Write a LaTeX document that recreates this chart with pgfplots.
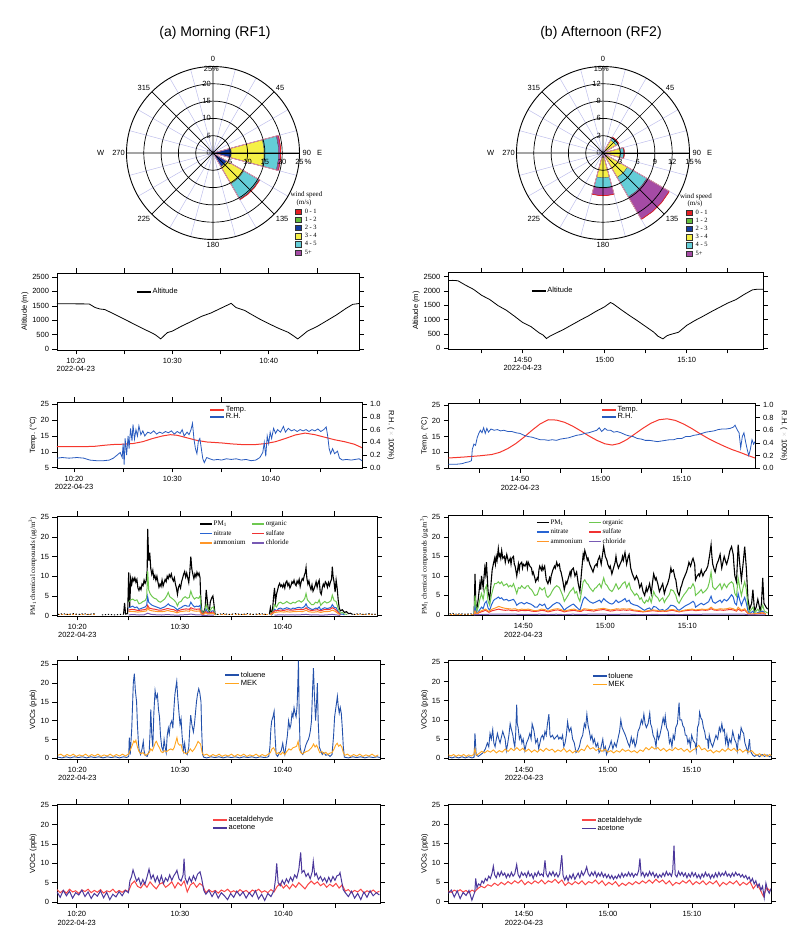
\documentclass[border=0pt]{standalone}
\usepackage{pgfplots}
\pgfplotsset{compat=1.18}
\usepgfplotslibrary{polar}
\usepackage{fontspec}
\setmainfont{Liberation Sans}
\newfontfamily\seriffont{Liberation Serif}
\definecolor{tempred}{RGB}{245,55,45}
\definecolor{rhblue}{RGB}{40,90,190}
\definecolor{pmgreen}{RGB}{110,200,80}
\definecolor{pmblue}{RGB}{40,100,210}
\definecolor{pmred}{RGB}{240,50,50}
\definecolor{pmorange}{RGB}{255,150,40}
\definecolor{pmpurple}{RGB}{120,90,180}
\definecolor{tolblue}{RGB}{35,80,170}
\definecolor{mekorange}{RGB}{255,165,30}
\definecolor{acered}{RGB}{250,70,70}
\definecolor{acepurple}{RGB}{75,55,155}
\definecolor{wred}{RGB}{230,30,35}
\definecolor{wgreen}{RGB}{100,190,60}
\definecolor{wblue}{RGB}{20,60,160}
\definecolor{wyellow}{RGB}{245,240,70}
\definecolor{wcyan}{RGB}{100,205,215}
\definecolor{wpurple}{RGB}{165,75,165}
\definecolor{wgrid}{RGB}{190,190,235}
\pgfplotsset{
  tsbase/.style={
    scale only axis, anchor=south west,
    tick align=outside, major tick length=4.5pt,
    axis line style={black, line width=0.7pt},
    every tick/.style={black, line width=0.6pt},
    tick label style={font=\fontsize{7.5}{8.5}\selectfont},
    ylabel style={font=\fontsize{7.5}{8.5}\selectfont},
    ylabel shift=-3pt,
    /pgf/number format/assume math mode=true,
    /pgf/number format/1000 sep={},
    xticklabel style={align=center},
    legend style={draw=none, fill=none, inner sep=0pt, font=\fontsize{7.5}{8.5}\selectfont,
      nodes={inner sep=0.8pt, text height=5pt, text depth=1.5pt}, row sep=0pt, legend cell align=left},
    legend image code/.code={\path[##1, draw, fill=none, line width=1.6pt] (0pt,0pt) -- (14pt,0pt);},
    unbounded coords=jump,
  },
  tsL/.style={xtick={20,25,30,35,40,45}, xticklabels={{10:20\\2022-04-23},,10:30,,10:40,}},
  tsR/.style={xtick={45,50,55,60,65,70,75}, xticklabels={,{14:50\\2022-04-23},,15:00,,15:10,}},
  rose/.style={
    anchor=origin, scale only axis, width=173pt, height=173pt,
    ymin=0, xtick={0,45,...,315},
    minor xtick={15,30,60,75,105,120,150,165,195,210,240,255,285,300,330,345},
    xmajorgrids=true, ymajorgrids=true, xminorgrids=true,
    major grid style={black, line width=0.7pt},
    minor grid style={wgrid, line width=0.5pt},
    xticklabels={}, yticklabels={},
    major tick length=0pt, minor tick length=0pt,
    axis line style={black, line width=0.9pt},
    axis on top, clip=false,
    x filter/.expression={90-x},
    legend style={draw=none, fill=none, inner sep=0pt, font=\seriffont\fontsize{6.5}{7}\selectfont,
      nodes={inner sep=0.6pt, text height=4.8pt, text depth=1.2pt}, row sep=1pt, legend cell align=left,
      /tikz/every odd column/.append style={column sep=3pt}},
    legend image code/.code={\draw[##1] (0pt,-2.7pt) rectangle (5.6pt,2.7pt);},
  },
  seg/.style={fill=#1, draw=black!70, line width=0.3pt, forget plot},
  outl/.style={draw=wred, line width=0.7pt, forget plot},
}
\begin{document}
\begin{tikzpicture}
\path[use as bounding box] (0pt,0pt) rectangle (800pt,935pt);
\node at (215pt,902pt) {\fontsize{14}{16}\selectfont (a) Morning (RF1)};
\node at (601pt,902pt) {\fontsize{14}{16}\selectfont (b) Afternoon (RF2)};

% ================= LEFT WIND ROSE =================
\begin{polaraxis}[rose, at={(213pt,782pt)}, ymax=25, ytick={5,10,15,20},
  legend style={at={(0.9746,0.1844)}, anchor=north west}]
\addplot[seg=wred] coordinates {(75,0)(75,0.3)(85,0.3)(95,0.3)(105,0.3)(105,0)(75,0)};
\addplot[seg=wgreen] coordinates {(75,0.3)(75,0.5)(85,0.5)(95,0.5)(105,0.5)(105,0.3)(95,0.3)(85,0.3)(75,0.3)};
\addplot[seg=wblue] coordinates {(75,0.5)(75,5.3)(85,5.3)(95,5.3)(105,5.3)(105,0.5)(95,0.5)(85,0.5)(75,0.5)};
\addplot[seg=wyellow] coordinates {(75,5.3)(75,14.8)(85,14.8)(95,14.8)(105,14.8)(105,5.3)(95,5.3)(85,5.3)(75,5.3)};
\addplot[seg=wcyan] coordinates {(75,14.8)(75,19)(85,19)(95,19)(105,19)(105,14.8)(95,14.8)(85,14.8)(75,14.8)};
\addplot[seg=wpurple] coordinates {(75,19)(75,19.6)(85,19.6)(95,19.6)(105,19.6)(105,19)(95,19)(85,19)(75,19)};
\addplot[outl] coordinates {(75,0)(75,19.6)(85,19.6)(95,19.6)(105,19.6)(105,0)(75,0)};
\addplot[seg=wred] coordinates {(120,0)(120,0.3)(130,0.3)(140,0.3)(150,0.3)(150,0)(120,0)};
\addplot[seg=wgreen] coordinates {(120,0.3)(120,0.5)(130,0.5)(140,0.5)(150,0.5)(150,0.3)(140,0.3)(130,0.3)(120,0.3)};
\addplot[seg=wblue] coordinates {(120,0.5)(120,4.6)(130,4.6)(140,4.6)(150,4.6)(150,0.5)(140,0.5)(130,0.5)(120,0.5)};
\addplot[seg=wyellow] coordinates {(120,4.6)(120,10.3)(130,10.3)(140,10.3)(150,10.3)(150,4.6)(140,4.6)(130,4.6)(120,4.6)};
\addplot[seg=wcyan] coordinates {(120,10.3)(120,15.4)(130,15.4)(140,15.4)(150,15.4)(150,10.3)(140,10.3)(130,10.3)(120,10.3)};
\addplot[seg=wpurple] coordinates {(120,15.4)(120,15.6)(130,15.6)(140,15.6)(150,15.6)(150,15.4)(140,15.4)(130,15.4)(120,15.4)};
\addplot[outl] coordinates {(120,0)(120,15.6)(130,15.6)(140,15.6)(150,15.6)(150,0)(120,0)};
\addlegendimage{fill=wred, draw=black!80, line width=0.3pt}\addlegendentry{0 - 1}
\addlegendimage{fill=wgreen, draw=black!80, line width=0.3pt}\addlegendentry{1 - 2}
\addlegendimage{fill=wblue, draw=black!80, line width=0.3pt}\addlegendentry{2 - 3}
\addlegendimage{fill=wyellow, draw=black!80, line width=0.3pt}\addlegendentry{3 - 4}
\addlegendimage{fill=wcyan, draw=black!80, line width=0.3pt}\addlegendentry{4 - 5}
\addlegendimage{fill=wpurple, draw=black!80, line width=0.3pt}\addlegendentry{5+}
\begin{scope}[font=\fontsize{7.5}{8}\selectfont]
\node[anchor=south, inner sep=4.5pt] at (axis cs:90,25) {0};
\node[anchor=south west, inner sep=1.5pt] at (axis cs:45,25) {45};
\node[anchor=west, inner sep=3pt] at (axis cs:0,25) {90\hspace{6pt}E};
\node[anchor=north west, inner sep=1.5pt] at (axis cs:-45,25) {135};
\node[anchor=north, inner sep=3pt] at (axis cs:-90,25) {180};
\node[anchor=north east, inner sep=1.5pt] at (axis cs:-135,25) {225};
\node[anchor=east, inner sep=1.5pt] at (axis cs:180,25) {W\hspace{8pt}270};
\node[anchor=south east, inner sep=1.5pt] at (axis cs:135,25) {315};
\end{scope}
\begin{scope}[font=\fontsize{7.5}{8}\selectfont, inner sep=0pt]
\node[anchor=east, xshift=-2pt] at (axis cs:90,0) {0};
\node[anchor=east, xshift=-2pt] at (axis cs:90,5) {5};
\node[anchor=east, xshift=-2pt] at (axis cs:90,10) {10};
\node[anchor=east, xshift=-2pt] at (axis cs:90,15) {15};
\node[anchor=east, xshift=-2pt] at (axis cs:90,20) {20};
\node[anchor=east, xshift=-0.5pt, yshift=-2.5pt] at (axis cs:90,25) {25};
\node[anchor=west, xshift=-1pt, yshift=-2.5pt] at (axis cs:90,25) {\%};
\node[anchor=north, yshift=-6pt] at (axis cs:0,5) {5};
\node[anchor=north, yshift=-6pt] at (axis cs:0,10) {10};
\node[anchor=north, yshift=-6pt] at (axis cs:0,15) {15};
\node[anchor=north, yshift=-6pt] at (axis cs:0,20) {20};
\node[anchor=north, yshift=-6pt] at (axis cs:0,25) {25};
\node[anchor=north west, yshift=-6pt, xshift=5pt] at (axis cs:0,25) {\%};
\end{scope}
\end{polaraxis}
\node[font=\seriffont\fontsize{7}{8}\selectfont] at (306.5pt,740pt) {wind speed};
\node[font=\seriffont\fontsize{7}{8}\selectfont] at (304pt,732pt) {(m/s)};

% ================= RIGHT WIND ROSE =================
\begin{polaraxis}[rose, at={(603pt,782pt)}, ymax=15, ytick={3,6,9,12},
  legend style={at={(0.980,0.1786)}, anchor=north west}]
\addplot[seg=wred] coordinates {(30,0)(30,0.2)(40,0.2)(50,0.2)(60,0.2)(60,0)(30,0)};
\addplot[seg=wgreen] coordinates {(30,0.2)(30,0.35)(40,0.35)(50,0.35)(60,0.35)(60,0.2)(50,0.2)(40,0.2)(30,0.2)};
\addplot[seg=wblue] coordinates {(30,0.35)(30,0.5)(40,0.5)(50,0.5)(60,0.5)(60,0.35)(50,0.35)(40,0.35)(30,0.35)};
\addplot[seg=wyellow] coordinates {(30,0.5)(30,2.6)(40,2.6)(50,2.6)(60,2.6)(60,0.5)(50,0.5)(40,0.5)(30,0.5)};
\addplot[seg=wcyan] coordinates {(30,2.6)(30,3.1)(40,3.1)(50,3.1)(60,3.1)(60,2.6)(50,2.6)(40,2.6)(30,2.6)};
\addplot[seg=wpurple] coordinates {(30,3.1)(30,3.2)(40,3.2)(50,3.2)(60,3.2)(60,3.1)(50,3.1)(40,3.1)(30,3.1)};
\addplot[outl] coordinates {(30,0)(30,3.2)(40,3.2)(50,3.2)(60,3.2)(60,0)(30,0)};
\addplot[seg=wred] coordinates {(75,0)(75,0.2)(85,0.2)(95,0.2)(105,0.2)(105,0)(75,0)};
\addplot[seg=wgreen] coordinates {(75,0.2)(75,0.35)(85,0.35)(95,0.35)(105,0.35)(105,0.2)(95,0.2)(85,0.2)(75,0.2)};
\addplot[seg=wblue] coordinates {(75,0.35)(75,0.5)(85,0.5)(95,0.5)(105,0.5)(105,0.35)(95,0.35)(85,0.35)(75,0.35)};
\addplot[seg=wyellow] coordinates {(75,0.5)(75,3.0)(85,3.0)(95,3.0)(105,3.0)(105,0.5)(95,0.5)(85,0.5)(75,0.5)};
\addplot[seg=wcyan] coordinates {(75,3.0)(75,3.6)(85,3.6)(95,3.6)(105,3.6)(105,3.0)(95,3.0)(85,3.0)(75,3.0)};
\addplot[seg=wpurple] coordinates {(75,3.6)(75,3.7)(85,3.7)(95,3.7)(105,3.7)(105,3.6)(95,3.6)(85,3.6)(75,3.6)};
\addplot[outl] coordinates {(75,0)(75,3.7)(85,3.7)(95,3.7)(105,3.7)(105,0)(75,0)};
\addplot[seg=wred] coordinates {(120,0)(120,0.2)(130,0.2)(140,0.2)(150,0.2)(150,0)(120,0)};
\addplot[seg=wgreen] coordinates {(120,0.2)(120,0.4)(130,0.4)(140,0.4)(150,0.4)(150,0.2)(140,0.2)(130,0.2)(120,0.2)};
\addplot[seg=wblue] coordinates {(120,0.4)(120,0.8)(130,0.8)(140,0.8)(150,0.8)(150,0.4)(140,0.4)(130,0.4)(120,0.4)};
\addplot[seg=wyellow] coordinates {(120,0.8)(120,4.9)(130,4.9)(140,4.9)(150,4.9)(150,0.8)(140,0.8)(130,0.8)(120,0.8)};
\addplot[seg=wcyan] coordinates {(120,4.9)(120,8.8)(130,8.8)(140,8.8)(150,8.8)(150,4.9)(140,4.9)(130,4.9)(120,4.9)};
\addplot[seg=wpurple] coordinates {(120,8.8)(120,13.3)(130,13.3)(140,13.3)(150,13.3)(150,8.8)(140,8.8)(130,8.8)(120,8.8)};
\addplot[outl] coordinates {(120,0)(120,13.3)(130,13.3)(140,13.3)(150,13.3)(150,0)(120,0)};
\addplot[seg=wred] coordinates {(165,0)(165,0.2)(175,0.2)(185,0.2)(195,0.2)(195,0)(165,0)};
\addplot[seg=wgreen] coordinates {(165,0.2)(165,0.4)(175,0.4)(185,0.4)(195,0.4)(195,0.2)(185,0.2)(175,0.2)(165,0.2)};
\addplot[seg=wblue] coordinates {(165,0.4)(165,0.8)(175,0.8)(185,0.8)(195,0.8)(195,0.4)(185,0.4)(175,0.4)(165,0.4)};
\addplot[seg=wyellow] coordinates {(165,0.8)(165,4.3)(175,4.3)(185,4.3)(195,4.3)(195,0.8)(185,0.8)(175,0.8)(165,0.8)};
\addplot[seg=wcyan] coordinates {(165,4.3)(165,6.1)(175,6.1)(185,6.1)(195,6.1)(195,4.3)(185,4.3)(175,4.3)(165,4.3)};
\addplot[seg=wpurple] coordinates {(165,6.1)(165,7.4)(175,7.4)(185,7.4)(195,7.4)(195,6.1)(185,6.1)(175,6.1)(165,6.1)};
\addplot[outl] coordinates {(165,0)(165,7.4)(175,7.4)(185,7.4)(195,7.4)(195,0)(165,0)};
\addlegendimage{fill=wred, draw=black!80, line width=0.3pt}\addlegendentry{0 - 1}
\addlegendimage{fill=wgreen, draw=black!80, line width=0.3pt}\addlegendentry{1 - 2}
\addlegendimage{fill=wblue, draw=black!80, line width=0.3pt}\addlegendentry{2 - 3}
\addlegendimage{fill=wyellow, draw=black!80, line width=0.3pt}\addlegendentry{3 - 4}
\addlegendimage{fill=wcyan, draw=black!80, line width=0.3pt}\addlegendentry{4 - 5}
\addlegendimage{fill=wpurple, draw=black!80, line width=0.3pt}\addlegendentry{5+}
\begin{scope}[font=\fontsize{7.5}{8}\selectfont]
\node[anchor=south, inner sep=4.5pt] at (axis cs:90,15) {0};
\node[anchor=south west, inner sep=1.5pt] at (axis cs:45,15) {45};
\node[anchor=west, inner sep=3pt] at (axis cs:0,15) {90\hspace{6pt}E};
\node[anchor=north west, inner sep=1.5pt] at (axis cs:-45,15) {135};
\node[anchor=north, inner sep=3pt] at (axis cs:-90,15) {180};
\node[anchor=north east, inner sep=1.5pt] at (axis cs:-135,15) {225};
\node[anchor=east, inner sep=1.5pt] at (axis cs:180,15) {W\hspace{8pt}270};
\node[anchor=south east, inner sep=1.5pt] at (axis cs:135,15) {315};
\end{scope}
\begin{scope}[font=\fontsize{7.5}{8}\selectfont, inner sep=0pt]
\node[anchor=east, xshift=-2pt] at (axis cs:90,0) {0};
\node[anchor=east, xshift=-2pt] at (axis cs:90,3) {3};
\node[anchor=east, xshift=-2pt] at (axis cs:90,6) {6};
\node[anchor=east, xshift=-2pt] at (axis cs:90,9) {9};
\node[anchor=east, xshift=-2pt] at (axis cs:90,12) {12};
\node[anchor=east, xshift=-0.5pt, yshift=-2.5pt] at (axis cs:90,15) {15};
\node[anchor=west, xshift=-1pt, yshift=-2.5pt] at (axis cs:90,15) {\%};
\node[anchor=north, yshift=-6pt] at (axis cs:0,3) {3};
\node[anchor=north, yshift=-6pt] at (axis cs:0,6) {6};
\node[anchor=north, yshift=-6pt] at (axis cs:0,9) {9};
\node[anchor=north, yshift=-6pt] at (axis cs:0,12) {12};
\node[anchor=north, yshift=-6pt] at (axis cs:0,15) {15};
\node[anchor=north west, yshift=-6pt, xshift=5pt] at (axis cs:0,15) {\%};
\end{scope}
\end{polaraxis}
\node[font=\seriffont\fontsize{7}{8}\selectfont] at (696pt,738.5pt) {wind speed};
\node[font=\seriffont\fontsize{7}{8}\selectfont] at (695pt,731pt) {(m/s)};

% ================= ALTITUDE =================
\begin{axis}[tsbase, tsL, at={(57pt,585pt)}, width=302pt, height=77pt,
  xmin=18.05, xmax=49.35, ymin=-35, ymax=2640, ytick={0,500,1000,1500,2000,2500},
  ylabel={Altitude (m)}, legend style={at={(0.262,0.812)}, anchor=north west}]
\addplot[black, line width=0.8pt] coordinates {(18.05,1570)(19,1570)(20,1568)(21,1566)(21.4,1562)(22,1440)(22.5,1390)(23,1370)(24,1210)(25,1040)(26,870)(27,700)(28,540)(28.3,480)(28.8,350)(29.2,480)(29.5,570)(30,620)(31,800)(32,960)(33,1130)(34,1250)(35,1410)(35.5,1490)(36.1,1585)(36.6,1440)(37.5,1340)(38,1240)(39,1050)(40,880)(41,720)(42,580)(42.5,470)(43,350)(43.5,480)(44,620)(45,780)(46,980)(47,1180)(48,1410)(48.7,1550)(49.35,1580)};
\addlegendentry{Altitude}
\end{axis}
\begin{axis}[tsbase, tsR, at={(448.3pt,586pt)}, width=315pt, height=76.7pt,
  xmin=40.93, xmax=79.34, ymin=-25, ymax=2655, ytick={0,500,1000,1500,2000,2500},
  ylabel={Altitude (m)}, legend style={at={(0.262,0.815)}, anchor=north west}]
\addplot[black, line width=0.8pt] coordinates {(40.93,2370)(41.5,2372)(42.1,2360)(43,2210)(44,2060)(45,1850)(46,1700)(47,1490)(48,1330)(49,1120)(50,900)(51,760)(52,540)(52.5,460)(52.9,340)(53.3,420)(54,520)(55,660)(56,820)(57,980)(58,1130)(59,1300)(60,1450)(60.7,1600)(61,1560)(62,1350)(63,1150)(64,960)(65,760)(66,560)(66.5,420)(67.1,330)(67.6,440)(68,480)(69,560)(70,800)(71,970)(72,1120)(73,1280)(74,1430)(75,1580)(76,1700)(77,1880)(78,2040)(78.5,2060)(79.34,2065)};
\addlegendentry{Altitude}
\end{axis}

% ================= TEMP / RH =================
\begin{axis}[tsbase, tsL, at={(57pt,467pt)}, width=305pt, height=66pt,
  xmin=18.27, xmax=49.29, ymin=4.9, ymax=25.7, ytick={5,10,15,20,25}, ytick pos=left,
  ylabel={Temp. (°C)}, legend style={at={(0.499,0.947)}, anchor=north west, row sep=-1pt}]
\addplot[tempred, line width=1pt] coordinates {(18.27,11.6)(20,11.6)(22,11.7)(23.2,12.1)(24,12.3)(25,12.4)(26,12.6)(27,13.2)(28,14.2)(29,15.0)(29.8,15.4)(30.5,15.2)(31.5,14.4)(32.5,13.6)(33.5,13.1)(35,12.8)(36,12.5)(37,12.3)(38.5,12.3)(39.5,12.6)(40.5,13.2)(41.5,14.2)(42.5,15.3)(43.5,15.9)(44.5,15.4)(45.5,14.6)(46.5,13.8)(47.5,13.2)(48.5,12.4)(49.29,11.3)};
\addlegendentry{Temp.}
\addlegendimage{rhblue, line width=0.9pt}
\addlegendentry{R.H.}
\end{axis}
\begin{axis}[tsbase, at={(57pt,467pt)}, width=305pt, height=66pt,
  xmin=18.27, xmax=49.29, ymin=-0.005, ymax=1.035, ytick={0,0.2,0.4,0.6,0.8,1},
  axis x line=none, axis y line*=right, ylabel shift=0pt,
  yticklabel style={/pgf/number format/.cd, fixed, fixed zerofill, precision=1},
  ylabel={R.H. ( {\color{gray!35}×} 100\%)}, ylabel style={rotate=180}]
\addplot[rhblue, line width=0.8pt] coordinates {(18.27,0.15)(18.8,0.16)(19.5,0.15)(20.3,0.16)(21,0.15)(21.6,0.12)(22.3,0.11)(23,0.11)(23.6,0.12)(24,0.15)(24.4,0.2)(24.7,0.24)(24.9,0.16)(25.0,0.38)(25.1,0.05)(25.2,0.46)(25.35,0.2)(25.5,0.5)(25.6,0.3)(25.75,0.62)(25.9,0.42)(26.0,0.68)(26.15,0.45)(26.3,0.6)(26.45,0.5)(26.6,0.66)(26.8,0.52)(27.0,0.58)(27.2,0.5)(27.5,0.56)(27.8,0.54)(28.1,0.58)(28.4,0.53)(28.7,0.56)(29,0.54)(29.3,0.57)(29.6,0.55)(29.9,0.58)(30.2,0.53)(30.5,0.57)(30.8,0.54)(31.0,0.6)(31.2,0.5)(31.5,0.56)(31.7,0.52)(31.9,0.6)(32.05,0.7)(32.2,0.45)(32.35,0.3)(32.5,0.22)(32.65,0.42)(32.8,0.46)(32.95,0.3)(33.1,0.14)(33.25,0.08)(33.5,0.16)(33.8,0.14)(34.2,0.12)(34.6,0.13)(35,0.12)(35.5,0.14)(36,0.13)(36.5,0.14)(37,0.12)(37.5,0.13)(38,0.11)(38.5,0.12)(38.9,0.16)(39.2,0.24)(39.35,0.4)(39.5,0.18)(39.65,0.5)(39.8,0.38)(39.95,0.56)(40.1,0.46)(40.3,0.62)(40.5,0.54)(40.7,0.6)(41.0,0.56)(41.3,0.65)(41.5,0.56)(41.8,0.62)(42.1,0.58)(42.4,0.6)(42.7,0.57)(43,0.6)(43.3,0.58)(43.6,0.6)(43.9,0.57)(44.2,0.6)(44.5,0.58)(44.8,0.61)(45.1,0.57)(45.4,0.6)(45.65,0.64)(45.8,0.5)(45.95,0.3)(46.1,0.22)(46.3,0.3)(46.5,0.22)(46.8,0.26)(47.0,0.15)(47.3,0.12)(47.7,0.13)(48.2,0.12)(48.6,0.13)(49,0.14)(49.29,0.11)};
\end{axis}
\begin{axis}[tsbase, tsR, at={(448.3pt,466.7pt)}, width=306.7pt, height=65pt,
  xmin=41.13, xmax=79.07, ymin=4.95, ymax=25.5, ytick={5,10,15,20,25}, ytick pos=left,
  ylabel={Temp. (°C)}, legend style={at={(0.4976,0.966)}, anchor=north west, row sep=-1pt}]
\addplot[tempred, line width=1pt] coordinates {(41.13,8.2)(43,8.5)(45,8.9)(46.5,9.3)(47.5,10.0)(48.5,11.2)(49.5,12.8)(50.5,14.8)(51.5,17.0)(52.5,19.0)(53.5,20.3)(54.5,20.2)(55.5,19.5)(56.5,18.3)(57.5,16.8)(58.5,15.2)(59.5,13.8)(60.5,12.7)(61.4,12.3)(62.3,12.8)(63.2,14.0)(64.2,15.8)(65.2,17.6)(66.2,19.2)(67.2,20.3)(68.2,20.6)(69.2,20.1)(70.2,19.0)(71.2,17.6)(72.2,16.0)(73.2,14.5)(74.2,13.2)(75.2,12.0)(76.2,10.9)(77.2,10.0)(78.2,9.0)(79.07,8.2)};
\addlegendentry{Temp.}
\addlegendimage{rhblue, line width=0.9pt}
\addlegendentry{R.H.}
\end{axis}
\begin{axis}[tsbase, at={(448.3pt,466.7pt)}, width=306.7pt, height=65pt,
  xmin=41.13, xmax=79.07, ymin=-0.0025, ymax=1.027, ytick={0,0.2,0.4,0.6,0.8,1},
  axis x line=none, axis y line*=right, ylabel shift=0pt,
  yticklabel style={/pgf/number format/.cd, fixed, fixed zerofill, precision=1},
  ylabel={R.H. ( {\color{gray!35}×} 100\%)}, ylabel style={rotate=180}]
\addplot[rhblue, line width=0.8pt] coordinates {(41.13,0.06)(42,0.06)(42.8,0.07)(43.3,0.09)(43.7,0.1)(44.0,0.12)(44.1,0.3)(44.3,0.38)(44.5,0.36)(44.7,0.48)(44.9,0.55)(45.1,0.6)(45.3,0.56)(45.5,0.64)(45.7,0.55)(45.9,0.63)(46.1,0.57)(46.4,0.62)(46.8,0.6)(47.2,0.61)(47.6,0.59)(48,0.6)(48.5,0.58)(49,0.58)(49.5,0.56)(50,0.55)(50.5,0.52)(51,0.5)(51.5,0.49)(52,0.47)(52.5,0.45)(53,0.45)(53.5,0.44)(54,0.45)(54.5,0.44)(55,0.46)(55.5,0.47)(56,0.48)(56.5,0.5)(57,0.52)(57.5,0.53)(58,0.55)(58.5,0.56)(59,0.58)(59.5,0.6)(59.8,0.64)(60.1,0.58)(60.5,0.63)(60.8,0.6)(61.2,0.6)(61.6,0.57)(62,0.58)(62.5,0.56)(63,0.53)(63.5,0.51)(64,0.5)(64.5,0.47)(65,0.46)(65.5,0.44)(66,0.44)(66.5,0.43)(67,0.42)(67.5,0.43)(68,0.44)(68.5,0.45)(69,0.45)(69.5,0.47)(70,0.47)(70.5,0.5)(71,0.5)(71.5,0.52)(72,0.53)(72.5,0.55)(73,0.57)(73.5,0.58)(74,0.59)(74.5,0.61)(75,0.62)(75.5,0.62)(76,0.63)(76.4,0.65)(76.6,0.68)(76.9,0.6)(77.1,0.56)(77.3,0.32)(77.5,0.5)(77.7,0.56)(77.9,0.42)(78.1,0.3)(78.3,0.2)(78.5,0.3)(78.7,0.45)(78.9,0.38)(79.07,0.42)};
\end{axis}

% ================= PM LEFT =================
\begin{axis}[tsbase, tsL, at={(57pt,319pt)}, width=320pt, height=100pt,
  xmin=18.02, xmax=49.18, ymin=-0.1, ymax=25.3, ytick={0,5,10,15,20,25},
  ylabel={\seriffont\fontsize{7}{8}\selectfont PM\textsubscript{1} chemical compounds (μg/m\textsuperscript{3})},
  legend columns=2, legend image code/.code={\path[#1, draw, fill=none, line width=1.6pt] (0pt,0pt) -- (12pt,0pt);},
  legend style={at={(0.444,0.965)}, anchor=north west, font=\seriffont\fontsize{7}{8}\selectfont, row sep=1.5pt,
    /tikz/every even column/.append style={column sep=5pt}}]
\addplot[pmorange, line width=0.9pt, dash pattern=on 2pt off 1.5pt, forget plot] coordinates {(18.1,0.2)(21.8,0.2)(21.9,nan)(33.6,0.2)(38.6,0.2)(38.7,nan)(46.9,0.2)(49.1,0.2)};
\addplot[black, line width=1pt, dash pattern=on 1.2pt off 1.8pt, forget plot] coordinates {(18.1,0.3)(18.6,0.5)(19.1,0.3)(19.6,0.5)(20.1,0.3)(20.6,0.5)(21.1,0.3)(21.6,0.5)(21.8,0.3)(21.9,nan)(22.4,0.2)(23.0,0.3)(23.6,0.2)(24.2,0.3)(24.5,0.3)(24.55,nan)(33.6,0.3)(34.2,0.5)(34.8,0.3)(35.4,0.5)(36.0,0.3)(36.6,0.5)(37.2,0.3)(37.8,0.5)(38.4,0.3)(38.6,nan)(46.9,0.3)(47.4,0.5)(47.9,0.3)(48.4,0.5)(48.9,0.3)(49.1,0.4)};
\addplot[black, line width=1.1pt] coordinates {(24.5,0.3)(24.6,3.2)(24.7,0.4)(24.9,0.5)(25.0,11)(25.1,2)(25.2,9.5)(25.3,8)(25.4,9.5)(25.5,8.8)(25.6,9.6)(25.7,8.5)(25.8,9.2)(25.9,7.0)(26.0,6.4)(26.1,7.2)(26.2,6.6)(26.3,8.0)(26.4,7.6)(26.5,9.0)(26.6,8.2)(26.7,8.8)(26.8,11.5)(26.85,22)(26.95,14)(27.05,16)(27.15,12)(27.25,10.5)(27.35,11.5)(27.45,9.5)(27.55,10.2)(27.65,9.0)(27.75,10.0)(27.85,8.5)(27.95,7.2)(28.05,8.0)(28.15,7.4)(28.25,9.0)(28.35,7.5)(28.45,8.4)(28.55,9.2)(28.65,8.6)(28.75,10.0)(28.85,9.4)(28.95,10.4)(29.05,9.8)(29.15,10.6)(29.25,9.4)(29.35,8.8)(29.45,9.6)(29.55,8.0)(29.65,7.0)(29.75,5.4)(29.85,7.2)(29.95,7.8)(30.05,7.0)(30.15,8.6)(30.25,9.5)(30.35,10.5)(30.45,11.2)(30.55,9.8)(30.65,10.8)(30.75,9.6)(30.85,8.4)(30.95,11.0)(31.05,15.0)(31.15,11.8)(31.25,10.5)(31.35,9.4)(31.45,10.6)(31.55,9.8)(31.65,11.0)(31.75,10.2)(31.85,10.8)(31.95,9.6)(32.0,5.5)(32.1,1.5)(32.2,0.5)(32.3,0.8)(32.45,2.0)(32.55,6.5)(32.65,4.0)(32.75,1.5)(32.85,1.0)(32.95,3.5)(33.1,4.6)(33.2,5.0)(33.3,3.0)(33.4,0.6)(33.5,0.2)(33.55,nan)(38.7,0.3)(38.8,2.0)(38.9,0.5)(39.0,1.2)(39.1,4.5)(39.2,7.0)(39.3,3.5)(39.4,5.5)(39.5,6.5)(39.6,7.6)(39.7,8.2)(39.8,7.4)(39.9,7.8)(40.0,7.2)(40.1,8.0)(40.2,7.0)(40.3,8.4)(40.4,8.8)(40.5,7.6)(40.6,8.2)(40.7,7.0)(40.8,7.6)(40.9,8.6)(41.0,8.2)(41.1,9.0)(41.2,8.0)(41.3,7.6)(41.4,8.8)(41.5,8.2)(41.6,9.2)(41.7,7.4)(41.8,8.6)(41.9,9.4)(42.0,9.0)(42.1,10.2)(42.2,11.0)(42.27,12.2)(42.35,9.5)(42.45,8.0)(42.55,8.8)(42.65,7.4)(42.75,6.6)(42.85,7.8)(42.95,6.2)(43.05,6.8)(43.15,7.6)(43.25,8.6)(43.35,7.2)(43.45,8.4)(43.55,9.0)(43.65,6.0)(43.75,5.4)(43.85,7.0)(43.95,8.0)(44.05,7.4)(44.15,8.6)(44.25,8.2)(44.35,7.2)(44.45,8.4)(44.55,7.6)(44.65,8.6)(44.75,9.2)(44.83,12.4)(44.9,10.0)(45.0,8.5)(45.1,6.0)(45.2,9.0)(45.3,7.0)(45.4,4.0)(45.5,2.0)(45.6,1.2)(45.8,1.5)(46.0,0.8)(46.2,1.0)(46.4,0.5)(46.6,0.6)(46.8,0.3)};
\addlegendentry{PM\textsubscript{1}}
\addplot[pmgreen, line width=1pt] coordinates {(25.0,3.5)(25.2,4.0)(25.4,4.2)(25.6,3.8)(25.8,4.0)(26.0,3.0)(26.2,3.2)(26.4,3.6)(26.6,3.8)(26.75,4.5)(26.85,11.3)(26.95,6.5)(27.1,5.5)(27.3,4.8)(27.5,4.4)(27.7,4.2)(27.9,3.6)(28.1,3.4)(28.3,3.8)(28.5,4.2)(28.7,5.0)(28.85,5.9)(29.0,4.8)(29.2,4.4)(29.4,4.0)(29.6,3.4)(29.75,2.5)(29.9,3.4)(30.1,3.6)(30.3,4.4)(30.5,4.8)(30.7,4.4)(30.9,4.6)(31.05,6.2)(31.2,5.0)(31.4,4.2)(31.6,4.6)(31.8,4.4)(31.95,5.0)(32.05,2.0)(32.2,0.4)(32.4,1.0)(32.55,2.8)(32.7,1.6)(32.9,1.2)(33.1,2.0)(33.25,2.2)(33.4,0.4)(33.5,0.2)(33.55,nan)(38.8,0.8)(39.0,0.6)(39.2,2.8)(39.4,2.2)(39.6,3.2)(39.8,3.4)(40.0,3.0)(40.2,3.2)(40.4,3.6)(40.6,3.2)(40.8,3.0)(41.0,3.4)(41.2,3.2)(41.4,3.6)(41.6,3.8)(41.8,3.4)(42.0,3.8)(42.15,4.4)(42.27,5.6)(42.4,4.0)(42.6,3.4)(42.8,2.8)(43.0,2.8)(43.2,3.4)(43.4,3.2)(43.55,4.0)(43.7,2.6)(43.9,3.2)(44.1,3.6)(44.3,3.2)(44.5,3.4)(44.7,3.8)(44.83,5.2)(45.0,3.8)(45.2,3.6)(45.4,1.8)(45.6,0.6)(45.8,0.8)(46.0,0.4)(46.3,0.3)};
\addlegendentry{organic}
\addplot[pmblue, line width=1pt] coordinates {(25.0,2.0)(25.2,2.2)(25.4,2.4)(25.6,2.0)(25.8,2.2)(26.0,1.6)(26.2,1.8)(26.4,2.0)(26.6,2.2)(26.75,2.6)(26.85,4.8)(26.95,3.4)(27.1,3.0)(27.3,2.6)(27.5,2.4)(27.7,2.2)(27.9,2.0)(28.1,1.8)(28.3,2.0)(28.5,2.2)(28.7,2.6)(28.85,3.0)(29.0,2.6)(29.2,2.4)(29.4,2.2)(29.6,1.8)(29.75,1.4)(29.9,1.8)(30.1,2.0)(30.3,2.4)(30.5,2.6)(30.7,2.4)(30.9,2.4)(31.05,3.4)(31.2,2.8)(31.4,2.2)(31.6,2.4)(31.8,2.3)(31.95,2.6)(32.05,1.0)(32.2,0.2)(32.4,0.6)(32.55,1.6)(32.7,0.8)(32.9,0.6)(33.1,1.2)(33.25,1.2)(33.4,0.2)(33.45,nan)(38.8,0.4)(39.0,0.3)(39.2,1.6)(39.4,1.2)(39.6,1.8)(39.8,1.9)(40.0,1.6)(40.2,1.8)(40.4,2.0)(40.6,1.8)(40.8,1.6)(41.0,1.9)(41.2,1.8)(41.4,2.0)(41.6,2.1)(41.8,1.9)(42.0,2.1)(42.15,2.4)(42.27,3.0)(42.4,2.2)(42.6,1.9)(42.8,1.6)(43.0,1.6)(43.2,1.9)(43.4,1.8)(43.55,2.2)(43.7,1.4)(43.9,1.8)(44.1,2.0)(44.3,1.8)(44.5,1.9)(44.7,2.1)(44.83,2.8)(45.0,2.1)(45.2,2.0)(45.4,1.0)(45.6,0.3)(45.8,0.4)(46.0,0.2)};
\addlegendentry{nitrate}
\addplot[pmred, line width=1pt] coordinates {(25.0,1.4)(25.3,1.6)(25.6,1.5)(25.9,1.3)(26.2,1.4)(26.5,1.5)(26.75,1.7)(26.85,2.6)(27.0,1.9)(27.3,1.7)(27.6,1.6)(27.9,1.4)(28.2,1.4)(28.5,1.6)(28.8,1.8)(29.1,1.6)(29.4,1.5)(29.7,1.1)(30.0,1.4)(30.3,1.6)(30.6,1.7)(30.9,1.6)(31.05,2.0)(31.3,1.7)(31.6,1.6)(31.9,1.7)(32.05,0.8)(32.2,0.3)(32.5,1.0)(32.7,0.6)(33.0,0.8)(33.25,0.9)(33.4,0.3)(33.45,nan)(38.8,0.3)(39.2,1.2)(39.5,1.3)(39.8,1.4)(40.1,1.3)(40.4,1.5)(40.7,1.4)(41.0,1.4)(41.3,1.5)(41.6,1.6)(41.9,1.5)(42.15,1.7)(42.27,2.0)(42.5,1.5)(42.8,1.3)(43.1,1.4)(43.4,1.5)(43.7,1.2)(44.0,1.5)(44.3,1.5)(44.6,1.6)(44.83,2.0)(45.1,1.6)(45.4,0.8)(45.6,0.3)};
\addlegendentry{sulfate}
\addplot[pmorange, line width=1pt] coordinates {(25.0,1.0)(25.3,1.1)(25.6,1.0)(25.9,0.9)(26.2,1.0)(26.5,1.1)(26.75,1.2)(26.85,2.0)(27.0,1.4)(27.3,1.2)(27.6,1.1)(27.9,1.0)(28.2,1.0)(28.5,1.1)(28.8,1.3)(29.1,1.1)(29.4,1.0)(29.7,0.7)(30.0,1.0)(30.3,1.1)(30.6,1.2)(30.9,1.1)(31.05,1.5)(31.3,1.2)(31.6,1.1)(31.9,1.2)(32.05,0.5)(32.2,0.2)(32.5,0.7)(32.7,0.4)(33.0,0.5)(33.25,0.6)(33.4,0.2)(33.45,nan)(38.8,0.2)(39.2,0.8)(39.5,0.9)(39.8,1.0)(40.1,0.9)(40.4,1.0)(40.7,0.9)(41.0,1.0)(41.3,1.0)(41.6,1.1)(41.9,1.0)(42.15,1.2)(42.27,1.4)(42.5,1.0)(42.8,0.9)(43.1,0.9)(43.4,1.0)(43.7,0.8)(44.0,1.0)(44.3,1.0)(44.6,1.1)(44.83,1.4)(45.1,1.1)(45.4,0.5)(45.6,0.2)};
\addlegendentry{ammonium}
\addplot[pmpurple, line width=1pt] coordinates {(25.0,0.2)(25.5,0.25)(26.0,0.15)(26.5,0.2)(26.85,0.6)(27.2,0.3)(27.7,0.2)(28.2,0.15)(28.7,0.25)(29.2,0.2)(29.7,0.1)(30.2,0.2)(30.7,0.25)(31.05,0.4)(31.5,0.2)(32.0,0.2)(32.2,0.05)(32.8,0.1)(33.3,0.1)(33.4,nan)(39.2,0.1)(39.7,0.2)(40.2,0.15)(40.7,0.2)(41.2,0.15)(41.7,0.2)(42.27,0.3)(42.8,0.15)(43.3,0.2)(43.8,0.1)(44.3,0.2)(44.83,0.3)(45.3,0.15)(45.6,0.05)};
\addlegendentry{chloride}
\end{axis}

% ================= PM RIGHT =================
\begin{axis}[tsbase, tsR, at={(448.3pt,319.3pt)}, width=320pt, height=100.7pt,
  xmin=40.85, xmax=79.88, ymin=-0.18, ymax=25.59, ytick={0,5,10,15,20,25},
  ylabel={\seriffont\fontsize{7}{8}\selectfont PM\textsubscript{1} chemical compounds (μg/m\textsuperscript{3})},
  legend columns=2, legend image code/.code={\path[#1, draw, fill=none, line width=1.6pt] (0pt,0pt) -- (12pt,0pt);},
  legend style={at={(0.274,0.968)}, anchor=north west, font=\seriffont\fontsize{7}{8}\selectfont, row sep=1.5pt,
    /tikz/every even column/.append style={column sep=5pt}}]
\addplot[pmorange, line width=0.9pt, dash pattern=on 2pt off 1.5pt, forget plot] coordinates {(41.0,0.2)(44.0,0.2)};
\addplot[black, line width=1pt, dash pattern=on 1.2pt off 1.8pt, forget plot] coordinates {(41.0,0.3)(41.4,0.4)(41.8,0.2)(42.2,0.3)(42.6,0.3)(43.0,0.2)(43.4,0.3)(43.8,0.3)(44.0,0.2)};
\addplot[black, line width=1.1pt] coordinates {(44.0,0.3)(44.11,10.5)(44.2,3)(44.3,1)(44.5,4)(44.7,8)(44.8,6.5)(44.9,10)(45.1,7)(45.3,12)(45.4,10.5)(45.5,13.5)(45.7,6)(45.9,4)(46.1,9)(46.2,11.5)(46.34,13)(46.5,14.5)(46.6,13)(46.7,15)(46.8,14)(46.95,17)(47.05,15)(47.15,15.5)(47.25,14.5)(47.36,16.5)(47.5,14.5)(47.7,15)(47.8,13.5)(47.98,15.5)(48.2,13.5)(48.4,14.5)(48.5,13)(48.6,14.5)(48.8,15)(48.9,13)(49.0,12.5)(49.2,10)(49.4,13)(49.5,11.5)(49.6,13)(49.8,13.5)(49.9,12)(50.0,13)(50.2,12.5)(50.4,13.5)(50.5,12)(50.6,13.5)(50.8,12.5)(51.0,12)(51.1,10.5)(51.2,11)(51.4,9.5)(51.5,8.5)(51.7,9.5)(51.8,9)(51.9,11.5)(52.0,12.5)(52.2,11.5)(52.3,12.5)(52.4,11.5)(52.6,12.5)(52.8,9)(53.0,8)(53.2,9.5)(53.3,8.5)(53.4,10)(53.6,11.5)(53.8,12.5)(53.9,12)(54.07,13.5)(54.2,12.5)(54.4,13)(54.5,11.5)(54.6,11)(54.8,9)(55.0,6.5)(55.2,8.5)(55.3,8)(55.5,9.5)(55.7,11)(55.8,10)(55.9,11.5)(56.1,12)(56.3,10)(56.5,11)(56.6,9.5)(56.7,8)(56.9,6)(57.1,11)(57.3,15.5)(57.4,14.5)(57.5,16.5)(57.7,15)(57.8,14)(57.9,14.5)(58.1,13)(58.3,12)(58.5,11)(58.7,12.5)(58.9,13)(59.0,12.5)(59.1,14)(59.3,15)(59.5,13)(59.7,16)(59.8,17.5)(60.0,15)(60.2,14)(60.3,13)(60.5,12)(60.6,12.5)(60.8,10.5)(61.0,12)(61.2,13.5)(61.3,15)(61.4,13.5)(61.6,12)(61.8,13)(62.0,14)(62.1,15)(62.2,14)(62.4,16)(62.6,13)(62.8,15)(62.9,15.5)(63.1,12)(63.3,10.5)(63.5,9.5)(63.6,9)(63.8,10)(63.9,9.5)(64.0,9)(64.2,7)(64.4,8)(64.5,7)(64.6,6)(64.8,5)(65.0,7)(65.1,6)(65.2,6.5)(65.4,8)(65.6,5.5)(65.8,9)(65.9,10.5)(66.1,9)(66.2,9.5)(66.4,8)(66.6,6)(66.8,7)(67.0,8)(67.2,5.5)(67.4,7)(67.6,8)(67.8,9.5)(68.0,12)(68.1,11)(68.3,11.5)(68.5,9.5)(68.6,9)(68.8,6)(69.0,5)(69.2,7)(69.3,7.5)(69.5,9)(69.6,9.5)(69.8,10.5)(69.9,11)(70.1,12.5)(70.2,13.5)(70.4,12.5)(70.6,14)(70.7,14.5)(70.9,13)(71.0,9)(71.2,10)(71.4,10.5)(71.5,10)(71.7,11.5)(71.9,10)(72.1,11)(72.3,11.5)(72.5,12.5)(72.7,15)(72.9,18)(73.0,15)(73.1,13)(73.3,11.5)(73.4,11)(73.6,13)(73.8,14)(74.0,15.5)(74.2,12)(74.4,14)(74.5,15)(74.7,13.5)(74.8,13)(75.0,14.5)(75.2,16.5)(75.4,17.5)(75.6,15.5)(75.7,12.5)(75.8,10)(76.0,8.5)(76.1,13)(76.2,18)(76.4,13)(76.6,9)(76.8,13)(77.0,17.5)(77.2,12)(77.3,8)(77.4,4)(77.6,1.5)(77.85,3)(78.0,6.5)(78.2,1)(78.4,2)(78.6,4)(78.9,1)(79.05,3)(79.2,9.5)(79.35,3)(79.6,2)(79.8,1.5)};
\addlegendentry{PM\textsubscript{1}}
\addplot[pmgreen, line width=1pt] coordinates {(44.0,0.3)(44.11,5)(44.3,0.8)(44.5,2)(44.7,4)(44.9,5.5)(45.1,4)(45.3,6.5)(45.5,7.5)(45.7,3.5)(45.9,2.5)(46.1,5)(46.34,7)(46.5,8)(46.7,8)(46.95,8.5)(47.15,8)(47.36,8.5)(47.6,7.5)(47.98,8)(48.2,7.2)(48.4,7.6)(48.6,7.2)(48.8,8)(49.0,6.8)(49.2,5.5)(49.4,7)(49.6,6.8)(49.8,7.5)(50.0,7)(50.2,6.8)(50.4,7.4)(50.6,7.5)(50.8,6.8)(51.0,6.5)(51.2,5.8)(51.4,5)(51.7,5.2)(51.9,6.4)(52.0,7)(52.3,6.4)(52.6,7)(52.8,5)(53.0,4.5)(53.3,5.2)(53.6,6.4)(53.8,7)(54.07,7.5)(54.4,7)(54.6,6)(54.8,5)(55.0,3.5)(55.3,4.5)(55.5,5.2)(55.7,6)(55.9,6.4)(56.1,7)(56.3,5.6)(56.5,6)(56.7,4.4)(56.9,3.5)(57.1,6)(57.3,8.5)(57.5,9)(57.7,8.2)(57.9,7.8)(58.1,7)(58.3,6.5)(58.5,6)(58.7,6.8)(58.9,7)(59.1,7.6)(59.3,8)(59.5,7)(59.8,9.5)(60.0,8)(60.2,7.6)(60.5,6.5)(60.8,6)(61.0,6.6)(61.3,8)(61.6,6.6)(61.8,7)(62.1,8)(62.4,8.5)(62.6,7)(62.9,8.2)(63.1,6.6)(63.3,6)(63.6,5)(63.8,5.5)(64.0,5)(64.2,4)(64.4,4.4)(64.6,3.4)(64.8,3)(65.0,3.8)(65.2,3.4)(65.4,4.5)(65.6,3.2)(65.9,6)(66.1,5)(66.4,4.4)(66.6,3.5)(66.8,4)(67.0,4.4)(67.2,3.2)(67.4,4)(67.8,5.2)(68.0,6.5)(68.3,6.2)(68.6,5)(68.8,3.5)(69.0,3)(69.3,4.2)(69.6,5.2)(69.9,6)(70.2,7)(70.4,6.8)(70.7,8)(70.9,7)(71.0,5)(71.4,5.8)(71.7,6.5)(71.9,5.6)(72.3,6.4)(72.5,7)(72.7,8.5)(72.9,11)(73.1,7.2)(73.4,6.5)(73.6,7)(74.0,8)(74.2,6.6)(74.5,8)(74.8,7)(75.0,7.8)(75.2,8.2)(75.4,8.5)(75.6,8)(75.8,5.5)(76.0,4.8)(76.2,9.5)(76.4,7)(76.6,5)(76.8,7)(77.0,8.5)(77.2,6.5)(77.4,2)(77.6,0.8)(78.0,2)(78.2,0.5)(78.6,1.5)(78.9,0.5)(79.2,2.5)(79.4,1)(79.8,0.5)};
\addlegendentry{organic}
\addplot[pmblue, line width=1pt] coordinates {(44.0,0.1)(44.11,2)(44.3,0.3)(44.5,0.8)(44.9,2)(45.1,1.6)(45.3,3)(45.5,3.5)(45.7,1.8)(45.9,1.2)(46.1,2.5)(46.34,3.6)(46.5,4)(46.7,4.2)(46.95,4.6)(47.15,4.2)(47.36,4.4)(47.6,3.8)(47.98,4)(48.2,3.6)(48.5,3.8)(48.8,4)(49.0,3.4)(49.2,2.5)(49.5,3)(49.8,3.2)(50.1,2.8)(50.4,3.2)(50.6,3)(50.9,2.8)(51.2,2.4)(51.4,2)(51.7,2)(52.0,2.8)(52.3,2.4)(52.6,2.8)(52.8,1.8)(53.0,1.5)(53.3,2)(53.6,2.6)(54.07,3.2)(54.4,3)(54.7,2.2)(55.0,1.2)(55.3,1.8)(55.6,2.2)(55.9,2.6)(56.1,2.8)(56.4,2.2)(56.7,1.6)(56.9,1.2)(57.1,2.6)(57.3,4)(57.5,4.6)(57.8,4)(58.1,3.4)(58.5,3)(58.9,3.4)(59.3,3.8)(59.5,3.2)(59.8,4.2)(60.1,3.6)(60.5,3)(60.8,2.8)(61.0,3)(61.3,3.8)(61.6,3.2)(62.0,3.6)(62.4,4.2)(62.6,3.4)(62.9,3.8)(63.1,3)(63.5,2.6)(63.9,2.4)(64.2,2)(64.6,1.4)(64.8,1.2)(65.1,1.6)(65.4,1.8)(65.6,1.2)(65.9,2.2)(66.2,2)(66.6,1.2)(67.0,1.4)(67.2,1)(67.6,1.6)(68.0,2.5)(68.3,2.4)(68.6,2)(68.8,1.4)(69.0,1.2)(69.4,1.8)(69.8,2.4)(70.2,2.8)(70.5,3.2)(70.7,3.5)(70.9,3)(71.0,2)(71.4,2.6)(71.7,3)(72.0,2.6)(72.3,3)(72.6,3.4)(72.9,4.8)(73.1,3.4)(73.4,3)(73.7,3.4)(74.0,3.8)(74.2,3.2)(74.5,4)(74.8,3.6)(75.0,4)(75.2,4.6)(75.4,5.2)(75.6,4.6)(75.8,3)(76.0,2.6)(76.2,5.5)(76.4,3.8)(76.6,2.5)(76.8,3.6)(77.0,4.5)(77.2,3)(77.4,1)(77.6,0.3)(78.0,1)(78.2,0.2)(78.6,0.6)(79.2,1)(79.5,0.3)};
\addlegendentry{nitrate}
\addplot[pmred, line width=1pt] coordinates {(44.0,0.1)(44.11,0.8)(44.3,0.2)(44.6,0.6)(45.0,0.9)(45.4,1.2)(45.8,0.7)(46.2,1.1)(46.6,1.3)(47.0,1.5)(47.4,1.3)(47.8,1.2)(48.2,1.3)(48.6,1.1)(49.0,1.2)(49.4,1.0)(49.8,1.2)(50.2,1.1)(50.6,1.2)(51.0,1.0)(51.4,0.9)(51.8,1.0)(52.2,1.2)(52.6,1.1)(53.0,0.8)(53.4,1.0)(53.8,1.2)(54.2,1.3)(54.6,1.1)(55.0,0.8)(55.4,1.0)(55.8,1.1)(56.2,1.2)(56.6,1.0)(57.0,0.9)(57.4,1.3)(57.8,1.2)(58.2,1.1)(58.6,1.0)(59.0,1.2)(59.4,1.3)(59.8,1.4)(60.2,1.2)(60.6,1.0)(61.0,1.1)(61.4,1.3)(61.8,1.2)(62.2,1.3)(62.6,1.2)(63.0,1.3)(63.4,1.1)(63.8,1.0)(64.2,0.9)(64.6,0.8)(65.0,0.9)(65.4,1.0)(65.8,1.1)(66.2,1.0)(66.6,0.9)(67.0,1.0)(67.4,0.9)(67.8,1.1)(68.2,1.2)(68.6,1.0)(69.0,0.8)(69.4,1.0)(69.8,1.1)(70.2,1.2)(70.6,1.3)(71.0,1.1)(71.4,1.2)(71.8,1.3)(72.2,1.2)(72.6,1.3)(72.9,1.6)(73.2,1.3)(73.6,1.2)(74.0,1.3)(74.4,1.2)(74.8,1.3)(75.2,1.4)(75.6,1.3)(76.0,1.0)(76.2,1.5)(76.6,1.0)(77.0,1.3)(77.4,0.4)(77.8,0.2)(78.5,0.3)(79.2,0.5)(79.6,0.2)};
\addlegendentry{sulfate}
\addplot[pmorange, line width=1pt] coordinates {(44.0,0.1)(44.11,1.0)(44.3,0.2)(44.6,0.8)(45.0,1.2)(45.4,1.5)(45.8,0.9)(46.2,1.5)(46.6,1.8)(47.0,2.2)(47.4,1.9)(47.8,1.7)(48.2,1.6)(48.6,1.5)(49.0,1.6)(49.4,1.3)(49.8,1.5)(50.2,1.4)(50.6,1.5)(51.0,1.3)(51.4,1.1)(51.8,1.2)(52.2,1.5)(52.6,1.4)(53.0,1.0)(53.4,1.3)(53.8,1.5)(54.2,1.6)(54.6,1.4)(55.0,1.0)(55.4,1.2)(55.8,1.4)(56.2,1.5)(56.6,1.2)(57.0,1.1)(57.4,1.6)(57.8,1.5)(58.2,1.4)(58.6,1.3)(59.0,1.5)(59.4,1.6)(59.8,1.7)(60.2,1.5)(60.6,1.3)(61.0,1.4)(61.4,1.6)(61.8,1.5)(62.2,1.6)(62.6,1.5)(63.0,1.6)(63.4,1.3)(63.8,1.2)(64.2,1.1)(64.6,0.9)(65.0,1.0)(65.4,1.2)(65.8,1.3)(66.2,1.2)(66.6,1.0)(67.0,1.1)(67.4,1.0)(67.8,1.3)(68.2,1.4)(68.6,1.2)(69.0,0.9)(69.4,1.1)(69.8,1.3)(70.2,1.4)(70.6,1.5)(71.0,1.3)(71.4,1.4)(71.8,1.5)(72.2,1.4)(72.6,1.5)(72.9,2.0)(73.2,1.5)(73.6,1.4)(74.0,1.6)(74.4,1.5)(74.8,1.6)(75.2,1.8)(75.6,1.6)(76.0,1.2)(76.2,2.0)(76.6,1.2)(77.0,1.6)(77.4,0.5)(77.8,0.2)(78.5,0.4)(79.2,0.6)(79.6,0.2)};
\addlegendentry{ammonium}
\addplot[pmpurple, line width=1pt] coordinates {(44.0,0.05)(45,0.15)(46,0.2)(47,0.25)(48,0.2)(49,0.2)(50,0.15)(51,0.15)(52,0.2)(53,0.1)(54,0.2)(55,0.1)(56,0.2)(57,0.15)(58,0.2)(59,0.2)(60,0.2)(61,0.15)(62,0.2)(63,0.2)(64,0.1)(65,0.1)(66,0.15)(67,0.1)(68,0.15)(69,0.1)(70,0.15)(71,0.15)(72,0.2)(73,0.25)(74,0.2)(75,0.25)(76,0.2)(77,0.2)(77.5,0.05)(79.5,0.05)};
\addlegendentry{chloride}
\end{axis}

% ================= VOC1 LEFT =================
\begin{axis}[tsbase, tsL, at={(57pt,176pt)}, width=323pt, height=98.3pt,
  xmin=18.02, xmax=49.47, ymin=-0.19, ymax=25.96, ytick={0,5,10,15,20,25},
  ylabel={VOCs (ppb)}, legend style={at={(0.518,0.895)}, anchor=north west}]
\addplot[tolblue, line width=0.9pt] coordinates {(18.1,0.3)(18.5,0.1)(18.9,0.4)(19.3,0.1)(19.7,0.4)(20.1,0.2)(20.5,0.4)(20.9,0.1)(21.3,0.4)(21.7,0.2)(22.1,0.4)(22.5,0.1)(22.9,0.4)(23.3,0.2)(23.7,0.4)(24.1,0.1)(24.5,0.4)(24.8,0.2)(25.0,0.5)(25.06,5.5)(25.15,1.0)(25.3,8.0)(25.4,16)(25.45,20)(25.55,22.5)(25.65,18)(25.77,15)(25.85,9)(25.95,4)(26.03,2)(26.15,1)(26.3,2.5)(26.42,4.5)(26.5,2)(26.6,0.8)(26.8,0.5)(27.0,2)(27.1,8)(27.15,13)(27.25,6)(27.35,3)(27.45,12)(27.57,18)(27.68,16)(27.8,17)(27.9,13)(28.0,11)(28.1,6)(28.22,3)(28.35,2)(28.45,5)(28.55,3)(28.65,1.5)(28.75,6)(28.86,8)(28.95,6.5)(29.05,9)(29.2,10)(29.3,8)(29.4,13)(29.5,17)(29.6,19)(29.68,20.5)(29.78,16)(29.9,12)(30.0,9)(30.1,10.5)(30.2,6)(30.33,2)(30.45,4)(30.55,1.5)(30.7,1)(30.85,3)(30.95,8)(31.04,11.5)(31.15,9)(31.3,7)(31.4,9)(31.5,12)(31.6,15)(31.7,17)(31.82,18.5)(31.92,17.5)(32.04,15)(32.1,8)(32.2,1)(32.3,0.3)(32.6,0.1)(33.0,0.4)(33.4,0.2)(33.8,0.4)(34.2,0.1)(34.6,0.4)(35.0,0.2)(35.4,0.4)(35.8,0.1)(36.2,0.4)(36.6,0.2)(37.0,0.4)(37.4,0.1)(37.8,0.4)(38.2,0.2)(38.5,0.3)(38.64,0.5)(38.75,3)(38.85,8)(38.93,10)(39.05,11)(39.16,12.5)(39.25,6)(39.36,1)(39.5,0.5)(39.7,1.5)(39.85,2)(40.0,4)(40.1,2)(40.2,1)(40.3,3)(40.45,6)(40.57,10)(40.7,8)(40.8,9)(40.9,12)(41.0,11)(41.1,13.5)(41.2,12)(41.3,11)(41.4,14)(41.47,20)(41.53,26)(41.6,12)(41.69,3)(41.8,1.5)(41.95,1)(42.1,2)(42.25,3.5)(42.4,4.5)(42.5,5)(42.6,6)(42.7,7.5)(42.8,10)(42.9,18)(42.99,24)(43.08,17)(43.2,10)(43.3,15)(43.37,20)(43.45,10)(43.56,3)(43.7,2)(43.85,1)(44.0,1.5)(44.2,0.8)(44.4,1)(44.6,0.5)(44.8,1)(44.95,6)(45.05,11)(45.15,13)(45.25,15)(45.32,16.5)(45.4,14)(45.5,12)(45.6,13.5)(45.7,12)(45.8,8)(45.9,3)(46.0,0.3)(46.4,0.1)(46.8,0.4)(47.2,0.2)(47.6,0.4)(48.0,0.1)(48.4,0.4)(48.8,0.2)(49.2,0.4)(49.45,0.2)};
\addlegendentry{toluene}
\addplot[mekorange, line width=0.9pt] coordinates {(18.1,0.8)(18.4,1.1)(18.7,0.5)(19.0,1.0)(19.3,0.6)(19.6,1.1)(19.9,0.5)(20.2,0.9)(20.5,0.6)(20.8,1.1)(21.1,0.5)(21.4,1.0)(21.7,0.6)(22.0,1.1)(22.3,0.5)(22.6,0.9)(22.9,0.6)(23.2,1.1)(23.5,0.5)(23.8,1.0)(24.1,0.6)(24.4,1.1)(24.7,0.6)(25.0,1.2)(25.2,2.5)(25.35,3.5)(25.5,4.6)(25.6,4.2)(25.7,4.8)(25.85,3)(26.0,1.8)(26.2,1.2)(26.4,1.5)(26.6,0.8)(26.8,1.0)(27.0,1.5)(27.15,2.5)(27.3,2)(27.45,3)(27.6,4.2)(27.7,4.5)(27.85,3.5)(28.0,2.8)(28.15,1.8)(28.3,1.5)(28.5,2)(28.7,1.8)(28.9,2.2)(29.1,2.5)(29.3,2.2)(29.45,3)(29.6,4.5)(29.7,5.5)(29.8,4)(29.95,3.5)(30.1,3.6)(30.25,2)(30.4,1.5)(30.6,1.2)(30.8,1.6)(31.0,2.5)(31.2,1.8)(31.4,2.5)(31.6,3.5)(31.75,4.5)(31.85,4.2)(32.0,3.8)(32.15,1.5)(32.3,0.8)(32.6,1.1)(32.9,0.5)(33.2,1.0)(33.5,0.6)(33.8,1.1)(34.1,0.5)(34.4,0.9)(34.7,0.6)(35.0,1.1)(35.3,0.5)(35.6,1.0)(35.9,0.6)(36.2,1.1)(36.5,0.5)(36.8,0.9)(37.1,0.6)(37.4,1.1)(37.7,0.5)(38.0,1.0)(38.3,0.6)(38.6,1.1)(38.8,1.5)(38.95,2.5)(39.1,2.8)(39.25,2)(39.4,1.2)(39.6,1.5)(39.8,1.0)(40.0,1.6)(40.2,1.0)(40.4,1.8)(40.6,2.5)(40.8,2.2)(41.0,2.8)(41.2,3.0)(41.35,3.2)(41.5,4.5)(41.6,2.5)(41.75,1.5)(41.9,1.2)(42.1,1.5)(42.3,1.8)(42.5,2.0)(42.7,2.5)(42.85,3.0)(43.0,3.8)(43.15,3.0)(43.3,3.5)(43.45,2.5)(43.6,1.5)(43.8,1.8)(44.0,1.2)(44.2,1.6)(44.4,1.0)(44.6,1.4)(44.8,1.5)(45.0,2.5)(45.15,3.5)(45.3,4.0)(45.45,3.2)(45.6,3.6)(45.75,3.0)(45.9,1.5)(46.05,0.8)(46.3,1.1)(46.6,0.5)(46.9,1.0)(47.2,0.6)(47.5,1.1)(47.8,0.5)(48.1,0.9)(48.4,0.6)(48.7,1.1)(49.0,0.5)(49.3,0.9)};
\addlegendentry{MEK}
\end{axis}

% ================= VOC1 RIGHT =================
\begin{axis}[tsbase, tsR, at={(448.3pt,176pt)}, width=323.4pt, height=98.3pt,
  xmin=40.97, xmax=79.55, ymin=-0.18, ymax=25.42, ytick={0,5,10,15,20,25},
  ylabel={VOCs (ppb)}, legend style={at={(0.444,0.885)}, anchor=north west}]
\addplot[tolblue, line width=0.9pt] coordinates {(41.0,0.4)(41.4,0.1)(41.8,0.4)(42.2,0.1)(42.6,0.4)(43.0,0.1)(43.4,0.4)(43.8,0.1)(44.05,0.3)(44.15,6.5)(44.3,0.8)(44.55,0.5)(44.85,1.0)(45.15,1.5)(45.4,2.5)(45.63,4.0)(45.8,3.0)(45.95,6.5)(46.1,5.0)(46.27,7.5)(46.4,4.0)(46.55,3.0)(46.7,5.0)(46.83,6.5)(47.0,5.0)(47.15,4.0)(47.3,5.5)(47.47,7.0)(47.6,6.0)(47.75,5.0)(47.9,2.0)(48.03,3.5)(48.2,6.0)(48.35,9.0)(48.5,7.5)(48.67,6.0)(48.8,4.0)(48.9,3.0)(49.0,6.0)(49.13,14.0)(49.2,9.0)(49.3,8.0)(49.45,5.0)(49.6,6.0)(49.75,4.0)(49.9,5.0)(50.1,2.0)(50.3,4.0)(50.5,5.0)(50.7,6.5)(50.85,5.0)(50.97,9.0)(51.1,8.0)(51.2,7.0)(51.4,4.0)(51.6,5.0)(51.75,2.5)(51.9,4.0)(52.05,5.5)(52.2,6.0)(52.35,5.0)(52.5,7.0)(52.65,6.0)(52.8,9.0)(52.97,11.5)(53.1,6.0)(53.2,5.5)(53.4,6.0)(53.6,5.0)(53.8,5.5)(54.0,6.0)(54.15,5.0)(54.3,5.5)(54.45,5.0)(54.6,6.0)(54.75,3.0)(54.9,4.0)(55.05,6.0)(55.2,9.5)(55.3,8.0)(55.4,7.0)(55.6,8.0)(55.8,5.0)(56.0,4.0)(56.2,1.5)(56.4,2.0)(56.6,3.0)(56.8,5.0)(57.0,6.0)(57.2,9.0)(57.35,8.0)(57.5,11.5)(57.65,8.5)(57.8,7.0)(57.95,5.0)(58.1,6.0)(58.25,4.0)(58.4,5.0)(58.6,3.0)(58.8,4.0)(58.95,1.5)(59.1,2.0)(59.25,3.5)(59.4,5.0)(59.55,2.0)(59.7,3.0)(59.85,1.0)(60.0,2.0)(60.2,3.0)(60.4,4.5)(60.6,2.5)(60.8,4.0)(61.0,3.0)(61.2,5.0)(61.4,7.0)(61.55,10.0)(61.7,8.0)(61.9,7.0)(62.1,6.0)(62.25,5.0)(62.4,4.0)(62.6,3.0)(62.8,5.5)(62.95,4.0)(63.1,5.0)(63.25,3.0)(63.4,4.0)(63.6,7.0)(63.8,8.0)(64.0,10.0)(64.15,9.0)(64.3,11.5)(64.45,9.0)(64.6,8.0)(64.8,9.0)(65.0,11.8)(65.1,9.0)(65.25,8.0)(65.4,6.0)(65.6,5.0)(65.75,3.0)(65.9,7.0)(66.05,5.0)(66.2,6.0)(66.4,8.0)(66.6,10.5)(66.75,9.0)(66.85,11.0)(67.0,8.0)(67.2,7.0)(67.35,4.0)(67.5,5.0)(67.65,3.0)(67.8,6.0)(67.95,5.0)(68.1,8.0)(68.3,9.0)(68.5,14.5)(68.6,10.0)(68.8,10.0)(68.95,8.5)(69.1,8.0)(69.25,6.0)(69.4,6.0)(69.55,4.0)(69.7,5.0)(69.85,3.0)(70.0,6.0)(70.2,4.5)(70.4,4.0)(70.55,2.0)(70.7,8.0)(70.85,9.0)(70.95,12.0)(71.1,10.5)(71.25,10.0)(71.4,8.0)(71.55,7.0)(71.7,5.0)(71.9,5.0)(72.0,2.5)(72.1,6.0)(72.3,4.0)(72.5,3.0)(72.7,4.5)(72.9,6.0)(73.1,5.0)(73.3,8.0)(73.45,7.0)(73.6,9.0)(73.75,7.0)(73.9,7.5)(74.05,4.0)(74.2,6.0)(74.35,3.0)(74.5,5.0)(74.7,4.0)(74.9,7.0)(75.1,5.0)(75.3,4.0)(75.45,2.0)(75.6,6.0)(75.75,5.0)(75.9,8.0)(76.05,7.0)(76.2,6.5)(76.35,4.0)(76.5,3.0)(76.7,1.5)(76.9,5.0)(77.0,2.0)(77.1,1.5)(77.3,0.8)(77.5,0.5)(77.8,0.9)(78.1,0.4)(78.4,1.0)(78.7,0.5)(79.0,0.9)(79.3,0.4)(79.5,0.8)};
\addlegendentry{toluene}
\addplot[mekorange, line width=0.9pt] coordinates {(41.0,0.9)(41.3,0.6)(41.6,1.0)(41.9,0.5)(42.2,0.9)(42.5,0.6)(42.8,1.0)(43.1,0.5)(43.4,0.9)(43.7,0.6)(44.0,1.0)(44.15,2.5)(44.3,0.8)(44.6,1.2)(44.95,1.8)(45.3,1.4)(45.65,2.0)(46.0,1.6)(46.35,2.2)(46.7,1.4)(47.05,2.0)(47.4,1.6)(47.75,2.4)(48.1,1.8)(48.45,2.6)(48.8,2.0)(49.15,2.8)(49.5,2.0)(49.85,2.6)(50.2,1.8)(50.55,2.4)(50.9,1.6)(51.25,2.2)(51.6,1.6)(51.95,2.4)(52.3,1.8)(52.65,2.6)(53.0,2.0)(53.35,2.4)(53.7,1.6)(54.05,2.2)(54.4,1.8)(54.75,2.6)(55.1,1.6)(55.45,2.2)(55.8,1.4)(56.15,2.0)(56.5,1.6)(56.85,2.4)(57.2,2.0)(57.55,3.4)(57.9,2.4)(58.25,2.8)(58.6,2.0)(58.95,2.6)(59.3,1.8)(59.65,2.4)(60.0,1.6)(60.35,2.0)(60.7,1.4)(61.05,2.0)(61.4,1.6)(61.75,2.4)(62.1,1.8)(62.45,2.2)(62.8,1.6)(63.15,2.0)(63.5,1.4)(63.85,2.2)(64.2,1.8)(64.55,2.8)(64.9,2.2)(65.25,3.0)(65.6,2.4)(65.95,2.8)(66.3,2.0)(66.65,2.6)(67.0,1.8)(67.35,2.4)(67.7,2.0)(68.05,2.8)(68.4,2.2)(68.75,2.6)(69.1,1.8)(69.45,2.4)(69.8,1.6)(70.15,2.2)(70.5,2.6)(70.85,3.4)(71.2,2.2)(71.55,2.6)(71.9,1.8)(72.25,2.2)(72.6,1.4)(72.95,2.0)(73.3,1.6)(73.65,2.4)(74.0,1.8)(74.35,2.6)(74.7,2.0)(75.05,2.6)(75.4,1.8)(75.75,2.4)(76.1,1.6)(76.45,2.2)(76.8,1.6)(77.15,2.0)(77.5,1.2)(77.8,0.8)(78.1,1.2)(78.4,0.6)(78.7,1.1)(79.0,0.5)(79.3,1.0)(79.5,0.7)};
\addlegendentry{MEK}
\end{axis}

% ================= VOC2 LEFT =================
\begin{axis}[tsbase, tsL, at={(57pt,31.7pt)}, width=323pt, height=99.3pt,
  xmin=18.09, xmax=49.36, ymin=-0.34, ymax=25.34, ytick={0,5,10,15,20,25},
  ylabel={VOCs (ppb)}, legend style={at={(0.48,0.884)}, anchor=north west}]
\addplot[acered, line width=1pt] coordinates {(18.1,3.2)(18.4,2.4)(18.7,3.0)(19.0,2.3)(19.3,3.3)(19.6,2.6)(19.9,2.9)(20.2,2.2)(20.5,3.1)(20.8,2.7)(21.1,3.3)(21.4,2.4)(21.7,3.0)(22.0,2.5)(22.3,3.2)(22.6,2.3)(22.9,2.9)(23.2,2.6)(23.5,3.3)(23.8,2.4)(24.1,3.0)(24.4,2.5)(24.7,3.1)(25.0,2.7)(25.3,4.6)(25.6,5.4)(25.9,4.0)(26.2,3.6)(26.5,4.8)(26.8,3.8)(27.1,5.2)(27.4,4.2)(27.7,3.4)(28.0,4.6)(28.3,5.0)(28.6,3.8)(28.9,4.4)(29.2,5.2)(29.5,3.6)(29.8,5.0)(30.1,4.2)(30.4,5.4)(30.7,2.6)(31.0,4.4)(31.3,5.0)(31.6,3.8)(31.9,4.8)(32.2,4.2)(32.5,2.4)(32.8,3.2)(33.1,2.6)(33.4,3.0)(33.7,2.3)(34.0,3.1)(34.3,2.7)(34.6,3.3)(34.9,2.5)(35.2,2.9)(35.5,2.4)(35.8,3.2)(36.1,2.6)(36.4,3.0)(36.7,2.3)(37.0,3.1)(37.3,2.7)(37.6,3.3)(37.9,2.5)(38.2,2.9)(38.5,2.4)(38.8,3.2)(39.1,2.6)(39.4,4.0)(39.7,4.8)(40.0,3.6)(40.3,4.4)(40.6,3.4)(40.9,4.6)(41.2,3.8)(41.5,5.0)(41.8,4.2)(42.1,3.4)(42.4,4.6)(42.7,5.4)(43.0,4.6)(43.3,5.2)(43.6,4.2)(43.9,4.8)(44.2,3.8)(44.5,4.6)(44.8,4.0)(45.1,4.8)(45.4,3.6)(45.7,4.4)(46.0,2.8)(46.3,3.2)(46.6,2.4)(46.9,3.0)(47.2,2.6)(47.5,3.3)(47.8,2.3)(48.1,2.9)(48.4,2.5)(48.7,3.1)(49.0,2.4)(49.3,2.8)};
\addlegendentry{acetaldehyde}
\addplot[acepurple, line width=1pt] coordinates {(18.1,2.6)(18.4,1.2)(18.7,3.0)(19.0,1.6)(19.3,2.8)(19.6,1.0)(19.9,2.4)(20.2,1.8)(20.5,3.1)(20.8,1.4)(21.1,2.6)(21.4,0.9)(21.7,2.2)(22.0,1.5)(22.3,2.9)(22.6,1.1)(22.9,2.5)(23.2,0.6)(23.5,2.0)(23.8,1.3)(24.1,2.7)(24.4,1.6)(24.7,3.0)(25.0,2.4)(25.15,5.5)(25.3,6.5)(25.45,8.3)(25.6,7.0)(25.8,5.4)(26.0,6.2)(26.2,4.4)(26.4,5.8)(26.6,4.6)(26.8,6.4)(27.0,8.5)(27.2,6.0)(27.4,7.0)(27.6,5.2)(27.8,6.6)(28.0,5.0)(28.2,6.8)(28.4,4.8)(28.6,6.2)(28.8,5.4)(29.0,7.0)(29.2,5.6)(29.4,6.8)(29.6,7.6)(29.7,8.2)(29.9,6.0)(30.1,5.4)(30.3,7.0)(30.39,11.2)(30.5,6.2)(30.7,4.8)(30.9,6.4)(31.1,5.2)(31.3,6.8)(31.5,5.6)(31.7,7.2)(31.94,7.8)(32.1,6.0)(32.3,3.0)(32.5,2.0)(32.8,3.0)(33.1,1.4)(33.4,2.8)(33.7,1.0)(34.0,2.4)(34.3,1.6)(34.6,0.6)(34.9,2.2)(35.2,1.2)(35.5,2.8)(35.8,1.6)(36.1,2.6)(36.4,1.0)(36.7,2.4)(37.0,1.4)(37.3,2.9)(37.6,0.8)(37.9,2.0)(38.2,0.4)(38.5,2.2)(38.8,1.4)(39.1,3.0)(39.25,6.0)(39.36,10.0)(39.5,5.0)(39.7,4.2)(39.9,5.6)(40.1,4.6)(40.3,6.0)(40.5,5.0)(40.7,6.4)(40.9,5.4)(41.1,7.0)(41.3,6.2)(41.5,8.4)(41.68,12.8)(41.8,7.6)(42.0,8.2)(42.2,6.6)(42.4,7.4)(42.6,6.0)(42.8,7.8)(42.9,10.5)(43.05,6.8)(43.2,7.4)(43.4,5.8)(43.6,6.6)(43.8,5.4)(44.0,6.2)(44.2,5.0)(44.4,6.4)(44.6,5.2)(44.8,6.6)(45.0,5.6)(45.2,6.8)(45.4,7.0)(45.49,7.6)(45.6,6.0)(45.8,3.2)(46.0,2.4)(46.3,1.4)(46.6,2.8)(46.9,1.0)(47.2,2.2)(47.5,0.6)(47.8,2.6)(48.1,1.2)(48.4,2.9)(48.7,1.6)(49.0,2.4)(49.3,1.8)};
\addlegendentry{acetone}
\end{axis}

% ================= VOC2 RIGHT =================
\begin{axis}[tsbase, tsR, at={(448.3pt,31.7pt)}, width=323.4pt, height=99.3pt,
  xmin=40.99, xmax=79.49, ymin=-0.41, ymax=25.26, ytick={0,5,10,15,20,25},
  ylabel={VOCs (ppb)}, legend style={at={(0.41,0.879)}, anchor=north west}]
\addplot[acered, line width=1pt] coordinates {(41.0,2.8)(41.35,2.4)(41.7,3.0)(42.05,2.6)(42.4,3.1)(42.75,2.5)(43.1,2.9)(43.45,2.3)(43.8,3.0)(44.15,2.6)(44.5,3.4)(44.9,4.0)(45.3,3.6)(45.7,4.4)(46.1,4.0)(46.5,4.8)(46.9,4.2)(47.3,5.0)(47.7,4.4)(48.1,5.2)(48.5,4.6)(48.9,5.4)(49.3,4.8)(49.7,5.6)(50.1,4.4)(50.5,5.2)(50.9,4.6)(51.3,5.4)(51.7,4.8)(52.1,5.6)(52.5,4.6)(52.9,5.4)(53.3,5.0)(53.7,5.8)(54.1,4.8)(54.5,5.6)(54.9,4.2)(55.3,5.0)(55.7,4.4)(56.1,5.2)(56.5,4.6)(56.9,5.4)(57.3,4.4)(57.7,5.2)(58.1,4.8)(58.5,5.6)(58.9,4.6)(59.3,5.4)(59.7,4.2)(60.1,5.0)(60.5,4.4)(60.9,5.2)(61.3,4.0)(61.7,4.8)(62.1,4.2)(62.5,5.0)(62.9,4.4)(63.3,5.2)(63.7,4.6)(64.1,5.4)(64.5,4.8)(64.9,5.6)(65.3,4.8)(65.7,5.8)(66.1,5.0)(66.5,5.6)(66.9,4.6)(67.3,5.4)(67.7,4.2)(68.1,5.0)(68.5,4.6)(68.9,5.4)(69.3,4.8)(69.7,5.6)(70.1,4.4)(70.5,5.2)(70.9,4.6)(71.3,5.4)(71.7,4.4)(72.1,5.2)(72.5,4.6)(72.9,5.4)(73.3,4.0)(73.7,5.0)(74.1,4.4)(74.5,5.2)(74.9,4.6)(75.3,5.4)(75.7,4.2)(76.1,5.0)(76.5,4.4)(76.9,5.2)(77.3,3.4)(77.7,4.6)(78.1,3.2)(78.5,1.4)(78.9,3.6)(79.3,2.8)};
\addlegendentry{acetaldehyde}
\addplot[acepurple, line width=1pt] coordinates {(41.0,2.2)(41.35,3.0)(41.7,1.2)(42.05,2.8)(42.4,0.8)(42.75,2.4)(43.1,1.6)(43.45,2.9)(43.8,0.4)(44.15,2.6)(44.25,6.0)(44.4,3.6)(44.6,4.6)(44.8,4.2)(45.0,5.4)(45.2,4.8)(45.4,6.0)(45.6,5.4)(45.8,6.6)(46.0,6.0)(46.2,7.4)(46.35,9.2)(46.5,7.0)(46.7,6.2)(46.9,7.6)(47.1,6.6)(47.3,7.8)(47.5,6.8)(47.7,7.4)(47.9,6.2)(48.1,7.2)(48.3,6.4)(48.5,7.6)(48.7,6.6)(48.9,7.2)(49.13,9.6)(49.3,7.0)(49.5,6.2)(49.7,7.6)(49.9,6.8)(50.1,7.4)(50.3,6.4)(50.5,7.8)(50.7,6.6)(50.9,7.2)(51.1,6.0)(51.3,7.4)(51.5,6.6)(51.7,7.8)(51.9,6.8)(52.1,7.2)(52.3,6.6)(52.5,10.7)(52.65,7.2)(52.85,6.4)(53.05,7.6)(53.25,6.8)(53.45,7.8)(53.65,6.6)(53.85,7.4)(54.05,6.4)(54.25,7.2)(54.5,12.0)(54.65,6.8)(54.85,5.6)(55.05,6.6)(55.25,5.4)(55.45,6.8)(55.65,6.0)(55.85,7.2)(56.05,5.8)(56.25,6.6)(56.45,7.4)(56.65,6.2)(56.85,7.8)(57.05,6.8)(57.25,7.6)(57.46,9.0)(57.65,7.2)(57.85,6.6)(58.05,7.6)(58.25,6.8)(58.45,7.8)(58.65,6.4)(58.85,7.4)(59.05,6.6)(59.25,7.6)(59.45,6.4)(59.65,7.2)(59.85,6.2)(60.05,7.0)(60.25,6.0)(60.45,6.8)(60.65,5.8)(60.85,6.6)(61.05,6.0)(61.25,7.0)(61.45,6.2)(61.65,7.4)(61.85,6.4)(62.05,7.2)(62.25,6.6)(62.45,7.6)(62.65,6.6)(62.85,7.4)(63.05,6.4)(63.25,7.2)(63.45,6.8)(63.65,8.0)(63.8,11.2)(63.95,6.8)(64.15,7.6)(64.35,6.4)(64.55,7.4)(64.75,6.6)(64.95,7.8)(65.15,6.8)(65.35,7.6)(65.55,6.4)(65.75,7.2)(65.95,6.2)(66.15,7.0)(66.35,6.4)(66.55,7.4)(66.75,6.6)(66.95,7.8)(67.15,6.8)(67.35,7.4)(67.55,6.6)(67.7,7.8)(67.86,14.5)(68.0,7.0)(68.2,6.4)(68.4,7.8)(68.6,6.8)(68.8,7.6)(69.0,6.6)(69.2,7.4)(69.4,6.2)(69.6,7.2)(69.8,6.4)(70.0,7.6)(70.2,6.6)(70.4,7.4)(70.6,6.2)(70.8,7.0)(71.0,6.0)(71.2,7.2)(71.4,6.4)(71.6,7.6)(71.8,6.6)(72.0,7.2)(72.2,6.0)(72.4,7.0)(72.6,6.2)(72.8,7.4)(73.0,6.4)(73.2,7.6)(73.4,6.6)(73.6,7.4)(73.8,6.8)(74.0,7.8)(74.2,6.6)(74.4,7.2)(74.6,6.4)(74.8,7.4)(75.0,6.6)(75.2,7.6)(75.4,6.8)(75.6,7.2)(75.8,6.4)(76.0,7.0)(76.2,6.2)(76.4,6.8)(76.6,5.8)(76.8,6.4)(77.0,5.2)(77.2,6.0)(77.4,4.6)(77.6,5.4)(77.8,3.8)(78.0,4.6)(78.2,3.0)(78.4,4.0)(78.6,1.0)(78.8,4.8)(79.0,3.0)(79.2,2.2)(79.4,3.4)};
\addlegendentry{acetone}
\end{axis}
\end{tikzpicture}
\end{document}
